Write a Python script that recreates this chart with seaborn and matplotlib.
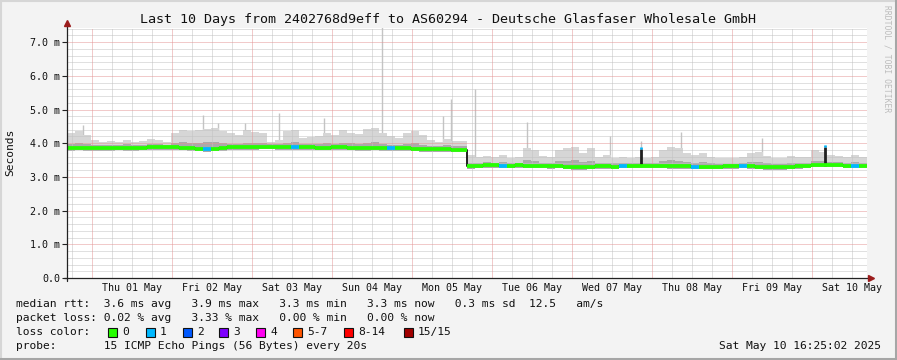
import numpy as np
import pandas as pd
import matplotlib
matplotlib.use("Agg")
import matplotlib.pyplot as plt
import matplotlib.dates as mdates
from matplotlib.lines import Line2D
from matplotlib.patches import Rectangle
import seaborn as sns

# ---------------- data ----------------
title = "Last 10 Days from 2402768d9eff to AS60294 - Deutsche Glasfaser Wholesale GmbH"
start = "2025-04-30 16:25"
end = "2025-05-10 16:25"

median_ms = [3.86, 3.87, 3.86, 3.85, 3.86, 3.86, 3.87, 3.86, 3.86, 3.87,
             3.88, 3.89, 3.88, 3.88, 3.87, 3.86, 3.84, 3.83,
             3.84, 3.86, 3.88, 3.89, 3.88, 3.89, 3.90,
             3.90, 3.89, 3.88, 3.88, 3.89, 3.88, 3.87,
             3.87, 3.88, 3.88, 3.87, 3.86, 3.86, 3.87, 3.86, 3.86, 3.85, 3.85, 3.84, 3.83,
             3.83, 3.82, 3.82, 3.81, 3.81,
             3.31, 3.33, 3.34, 3.34, 3.33, 3.33, 3.34, 3.33, 3.32, 3.32, 3.31, 3.32,
             3.30, 3.29, 3.29, 3.30, 3.31, 3.31, 3.30, 3.32,
             3.33, 3.33, 3.32, 3.33, 3.32, 3.31, 3.31, 3.31, 3.30, 3.30,
             3.30, 3.30, 3.31, 3.31, 3.32, 3.31, 3.30, 3.29, 3.28, 3.29, 3.30, 3.31, 3.33,
             3.35, 3.36, 3.36, 3.35, 3.33, 3.33, 3.33]

smoke_hi = [4.30, 4.35, 4.25, 4.10, 4.05, 4.08, 4.05, 4.10, 4.05, 4.08,
            4.12, 4.10, 4.05, 4.30, 4.38, 4.35, 4.40, 4.42,
            4.45, 4.35, 4.30, 4.25, 4.38, 4.34, 4.30,
            4.05, 4.10, 4.35, 4.40, 4.15, 4.18, 4.20,
            4.30, 4.25, 4.38, 4.30, 4.28, 4.42, 4.44, 4.30, 4.20, 4.15, 4.30, 4.35, 4.25,
            4.10, 4.05, 4.12, 4.08, 4.06,
            3.65, 3.60, 3.62, 3.58, 3.65, 3.55, 3.60, 3.85, 3.80, 3.62, 3.58, 3.80,
            3.85, 3.90, 3.70, 3.85, 3.60, 3.65, 3.55, 3.60,
            3.55, 3.60, 3.55, 3.58, 3.80, 3.90, 3.85, 3.70, 3.65, 3.70,
            3.60, 3.55, 3.55, 3.55, 3.60, 3.70, 3.75, 3.62, 3.55, 3.55, 3.62, 3.60, 3.58,
            3.80, 3.75, 3.65, 3.62, 3.60, 3.65, 3.60]

smoke_mid = [3.98, 4.00, 3.98, 3.95, 3.95, 3.96, 3.96, 3.97, 3.95, 3.96,
             3.98, 3.98, 3.96, 4.02, 4.05, 4.00, 4.02, 4.05,
             4.05, 4.00, 3.98, 3.98, 4.02, 4.00, 4.00,
             3.98, 3.98, 4.02, 4.05, 3.98, 3.98, 3.98,
             4.00, 3.98, 4.02, 4.00, 3.98, 4.02, 4.05, 3.98, 3.96, 3.95, 3.98, 4.00, 3.96,
             3.93, 3.92, 3.94, 3.92, 3.92,
             3.42, 3.42, 3.43, 3.42, 3.44, 3.40, 3.42, 3.50, 3.48, 3.42, 3.40, 3.46,
             3.48, 3.50, 3.44, 3.48, 3.40, 3.42, 3.40, 3.42,
             3.40, 3.42, 3.40, 3.41, 3.46, 3.50, 3.48, 3.44, 3.42, 3.44,
             3.40, 3.38, 3.39, 3.39, 3.41, 3.44, 3.45, 3.40, 3.38, 3.38, 3.41, 3.41, 3.42,
             3.48, 3.47, 3.44, 3.43, 3.42, 3.44, 3.42]

smoke_lo = [3.78, 3.79, 3.78, 3.77, 3.78, 3.78, 3.79, 3.78, 3.78, 3.79,
            3.80, 3.81, 3.80, 3.80, 3.79, 3.78, 3.76, 3.75,
            3.76, 3.78, 3.80, 3.81, 3.80, 3.81, 3.82,
            3.82, 3.81, 3.80, 3.80, 3.81, 3.80, 3.79,
            3.79, 3.80, 3.80, 3.79, 3.78, 3.78, 3.79, 3.78, 3.78, 3.77, 3.77, 3.76, 3.75,
            3.75, 3.74, 3.74, 3.73, 3.73,
            3.24, 3.26, 3.27, 3.27, 3.26, 3.26, 3.27, 3.26, 3.25, 3.25, 3.24, 3.25,
            3.23, 3.22, 3.22, 3.23, 3.24, 3.24, 3.23, 3.25,
            3.26, 3.26, 3.25, 3.26, 3.25, 3.24, 3.24, 3.24, 3.23, 3.23,
            3.23, 3.23, 3.24, 3.24, 3.25, 3.24, 3.23, 3.22, 3.21, 3.22, 3.23, 3.24, 3.26,
            3.28, 3.29, 3.29, 3.28, 3.26, 3.26, 3.26]

loss_pings = [0] * 100
for i in (17, 28, 40, 54, 69, 78, 84, 98):
    loss_pings[i] = 1

spike_times = ["2025-04-30 21:13", "2025-05-02 09:13", "2025-05-02 13:43", "2025-05-02 21:49",
               "2025-05-03 08:01", "2025-05-03 21:31", "2025-05-04 14:55", "2025-05-05 09:13",
               "2025-05-05 11:37", "2025-05-05 18:49", "2025-05-06 10:25", "2025-05-07 11:19",
               "2025-05-07 20:37", "2025-05-08 08:37", "2025-05-09 08:55", "2025-05-10 03:55"]
spike_top = [4.55, 4.85, 4.60, 4.60, 4.90, 4.74, 7.45, 4.80,
             5.32, 5.60, 4.64, 4.20, 4.07, 4.34, 4.15, 3.95]
spike_base = [3.90, 3.90, 3.90, 3.90, 3.90, 3.90, 3.90, 3.85,
              3.85, 3.36, 3.36, 3.36, 3.36, 3.36, 3.36, 3.36]

bar_times = ["2025-05-07 20:37", "2025-05-10 03:55"]
bar_low = [3.33, 3.33]
bar_top = [3.82, 3.90]

day_labels = ["Thu 01 May", "Fri 02 May", "Sat 03 May", "Sun 04 May", "Mon 05 May",
              "Tue 06 May", "Wed 07 May", "Thu 08 May", "Fri 09 May", "Sat 10 May"]
label_dates = ["2025-05-01 12:00", "2025-05-02 12:00", "2025-05-03 12:00", "2025-05-04 12:00",
               "2025-05-05 12:00", "2025-05-06 12:00", "2025-05-07 12:00", "2025-05-08 12:00",
               "2025-05-09 12:00", "2025-05-10 12:00"]
y_ticks = [0, 1, 2, 3, 4, 5, 6, 7]
y_tick_labels = ["0.0", "1.0 m", "2.0 m", "3.0 m", "4.0 m", "5.0 m", "6.0 m", "7.0 m"]

loss_names = ["0", "1", "2", "3", "4", "5-7", "8-14", "15/15"]
loss_colors = ["#26ff00", "#00b8ff", "#0059ff", "#7e00ff", "#ff00f0", "#ff5500", "#ff0000", "#a10000"]

stat_rtt = "median rtt:  3.6 ms avg   3.9 ms max   3.3 ms min   3.3 ms now   0.3 ms sd  12.5   am/s"
stat_loss = "packet loss: 0.02 % avg   3.33 % max   0.00 % min   0.00 % now"
probe_text = "probe:       15 ICMP Echo Pings (56 Bytes) every 20s"
stamp = "Sat May 10 16:25:02 2025"

# ---------------- drawing ----------------
sns.set_style("white")
mono = ["DejaVu Sans Mono"]
plt.rcParams["font.family"] = mono

W, H = 897, 360
BG = "#f3f3f3"
fig = plt.figure(figsize=(W / 100, H / 100), dpi=100, facecolor=BG)
ax = fig.add_axes([67 / W, 82 / H, 800 / W, 250 / H])
ax.set_facecolor("white")

edges = pd.date_range(start, end, periods=len(median_ms) + 1)
def ext(v):
    return list(v) + [v[-1]]

# spikes first (covered by smoke near base)
ax.vlines(pd.to_datetime(spike_times), spike_base, spike_top, color="#c4c4c4", lw=1.0, zorder=1)
ax.fill_between(edges, ext(smoke_lo), ext(smoke_hi), step="post", color="#d6d6d6", lw=0, zorder=1.1)
ax.fill_between(edges, ext(smoke_lo), ext(smoke_mid), step="post", color="#aaaaaa", lw=0, zorder=1.2)

# dark bars
ax.vlines(pd.to_datetime(bar_times), bar_low, bar_top, color="#202020", lw=2.0, zorder=3)

# median: black base (for the vertical connections) then loss-coloured segments
sns.lineplot(x=edges, y=ext(median_ms), drawstyle="steps-post", color="#202020",
             lw=1.4, ax=ax, zorder=3)
seg_colors = [loss_colors[1] if l == 1 else loss_colors[0] for l in loss_pings]
ax.hlines(median_ms, edges[:-1], edges[1:], colors=seg_colors, lw=2.7, zorder=3.5)
ax.vlines(pd.to_datetime(bar_times), bar_top, [t + 0.06 for t in bar_top],
          color=loss_colors[1], lw=2.0, zorder=3.6)

# axes scales
t0, t1 = pd.Timestamp(start), pd.Timestamp(end)
ax.set_xlim(t0, t1)
ax.set_ylim(0, 7.42)
ax.set_yticks(y_ticks)
ax.set_yticklabels(y_tick_labels, fontsize=7.2, family=mono)
ax.set_xlabel("")
ax.set_ylabel("")
ax.grid(False)

# dotted grid on top of the smoke
ymin_loc = matplotlib.ticker.MultipleLocator(0.2)
for yv in ymin_loc.tick_values(0, 7.42):
    if yv <= 0 or yv > 7.42:
        continue
    major = abs(yv - round(yv)) < 1e-6
    ax.axhline(yv, color="#e49696" if major else "#c2c2c2", lw=0.72,
               linestyle=(0, (1, 1)), zorder=2.6 if major else 2.5)
hour_loc = mdates.HourLocator(byhour=[0, 6, 12, 18])
for xv in hour_loc.tick_values(t0.to_pydatetime(), t1.to_pydatetime()):
    dt = mdates.num2date(xv)
    if xv <= mdates.date2num(t0) or xv >= mdates.date2num(t1):
        continue
    major = dt.hour == 0
    ax.axvline(xv, color="#e49696" if major else "#c2c2c2", lw=0.72,
               linestyle=(0, (1, 1)), zorder=2.6 if major else 2.5)

ax.tick_params(axis="y", which="major", length=3.6, width=0.8, pad=1.5, color="#222222",
               labelcolor="#111111", left=True, direction="out")
ax.tick_params(axis="x", which="both", length=0, labelbottom=False)
for s in ax.spines.values():
    s.set_visible(False)

for d, lab in zip(pd.to_datetime(label_dates), day_labels):
    ax.text(d, -10 / 250, lab, transform=ax.get_xaxis_transform(), ha="center", va="center",
            fontsize=7.2, family=mono, color="#111111")

# axis lines with arrows (figure pixel coords)
def fx(x):
    return x / W
def fy(y):
    return 1 - y / H
fig.add_artist(Line2D([fx(67), fx(67)], [fy(281), fy(25)], color="#222222", lw=0.9))
fig.add_artist(Line2D([fx(64), fx(869)], [fy(278), fy(278)], color="#222222", lw=0.9))
fig.add_artist(Line2D([fx(67)], [fy(23)], marker="^", markersize=4.5, color="#9b1c1c", lw=0))
fig.add_artist(Line2D([fx(871)], [fy(278)], marker=">", markersize=4.5, color="#9b1c1c", lw=0))

# texts
fig.text(fx(448), fy(19), title, ha="center", va="center", fontsize=9.6, family=mono, color="#111111")
fig.text(fx(10), fy(152), "Seconds", rotation=90, ha="center", va="center", fontsize=8.1,
         family=mono, color="#111111")
fig.text(fx(887), fy(5), "RRDTOOL / TOBI OETIKER", rotation=270, ha="center", va="top",
         fontsize=5.8, family=mono, color="#bcbcbc")

fs = 8.1
fig.text(fx(16), fy(304), stat_rtt, ha="left", va="center", fontsize=fs, family=mono, color="#111111")
fig.text(fx(16), fy(318), stat_loss, ha="left", va="center", fontsize=fs, family=mono, color="#111111")
fig.text(fx(16), fy(332), "loss color:", ha="left", va="center", fontsize=fs, family=mono, color="#111111")
box_x = [108, 146, 183, 219, 256, 293, 344, 404]
for bx, name, col in zip(box_x, loss_names, loss_colors):
    fig.add_artist(Rectangle((fx(bx), fy(336.5)), 8.5 / W, 8.5 / H, transform=fig.transFigure,
                             facecolor=col, edgecolor="#111111", lw=0.8))
    fig.text(fx(bx + 14), fy(332), name, ha="left", va="center", fontsize=fs, family=mono, color="#111111")
fig.text(fx(16), fy(346), probe_text, ha="left", va="center", fontsize=fs, family=mono, color="#111111")
fig.text(fx(881), fy(346), stamp, ha="right", va="center", fontsize=fs, family=mono, color="#111111")

# 3D-ish frame
fig.add_artist(Line2D([0, 1], [fy(0.5), fy(0.5)], color="#d6d6d6", lw=1.5))
fig.add_artist(Line2D([fx(0.5), fx(0.5)], [0, 1], color="#d6d6d6", lw=1.5))
fig.add_artist(Line2D([0, 1], [fy(359), fy(359)], color="#a6a6a6", lw=2.2))
fig.add_artist(Line2D([fx(896), fx(896)], [0, 1], color="#a6a6a6", lw=2.2))

fig.savefig("out.png", dpi=100, facecolor=BG)
